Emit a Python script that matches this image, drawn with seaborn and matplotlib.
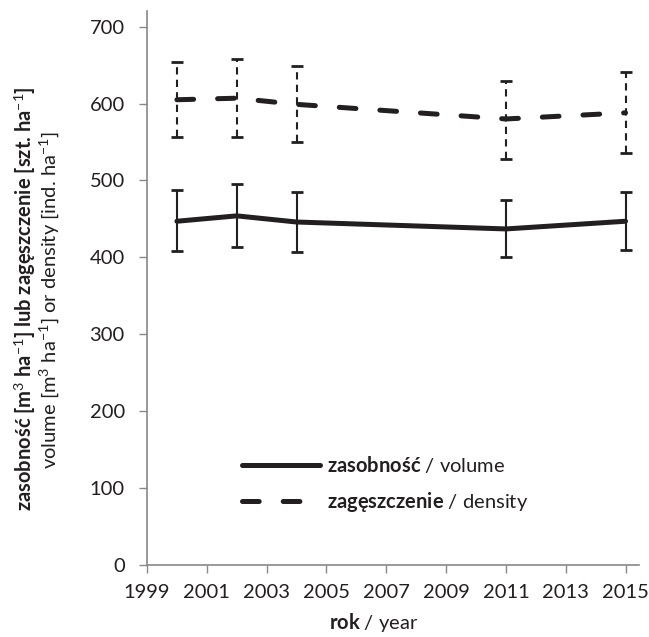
import matplotlib
matplotlib.use("Agg")
import matplotlib.pyplot as plt
import seaborn as sns
import pandas as pd

years = [2000, 2002, 2004, 2011, 2015]
volume = [447, 454, 446, 437, 447]
volume_err_hi = [487, 495, 485, 475, 485]
volume_err_lo = [408, 414, 407, 400, 410]
density = [605, 607, 599, 580, 588]
density_err_hi = [654, 658, 649, 630, 641]
density_err_lo = [556, 557, 550, 528, 536]
xticks = list(range(1999, 2016, 2))
yticks = [0, 100, 200, 300, 400, 500, 600, 700]

sns.set_style("white")
FONT = ["Lato", "DejaVu Sans"]
plt.rcParams["font.family"] = FONT
plt.rcParams["mathtext.fontset"] = "custom"
plt.rcParams["mathtext.rm"] = "Lato"
plt.rcParams["mathtext.bf"] = "Lato:bold"
plt.rcParams["mathtext.it"] = "Lato:italic"
plt.rcParams["mathtext.fallback"] = "stixsans"

col = "#231f20"
FS = 14.5
W, H = 649, 637
x0, x1 = 147, 639
y0, ytop = 565, 11.3
fig = plt.figure(figsize=(W/100, H/100), dpi=100)
ax = fig.add_axes([x0/W, 1-y0/H, (x1-x0)/W, (y0-ytop)/H])

df = pd.DataFrame({"year": years, "volume": volume, "density": density})

ax.errorbar(years, volume,
            yerr=[[v - l for v, l in zip(volume, volume_err_lo)],
                  [h - v for v, h in zip(volume, volume_err_hi)]],
            fmt="none", ecolor=col, elinewidth=1.5, capsize=4, capthick=2, zorder=2)
eb = ax.errorbar(years, density,
                 yerr=[[v - l for v, l in zip(density, density_err_lo)],
                       [h - v for v, h in zip(density, density_err_hi)]],
                 fmt="none", ecolor=col, elinewidth=1.5, capsize=4, capthick=2, zorder=2)
for lc in eb[2]:
    lc.set_linestyle((0, (3.5, 2.5)))

LW = 3.6
sns.lineplot(data=df, x="year", y="volume", ax=ax, color=col, linewidth=LW,
             label="$\\mathbf{zasobność}$ / volume", zorder=3)
sns.lineplot(data=df, x="year", y="density", ax=ax, color=col, linewidth=LW,
             label="$\\mathbf{zagęszczenie}$ / density", zorder=3)
lines = ax.get_lines()
lines[-1].set_dashes((3.34, 4.8))
lines[-1].set_dash_capstyle("round")
lines[-2].set_solid_capstyle("round")

ax.set_xlim(1999, 2015.45)
ax.set_ylim(0, 720)
ax.set_xticks(xticks)
ax.set_yticks(yticks)
ax.tick_params(axis="both", labelsize=FS, colors=col, length=6, width=1, direction="out",
               color="#888888", bottom=True, left=True)
ax.tick_params(axis="x", pad=8)
ax.tick_params(axis="y", pad=10)
for s in ["top", "right"]:
    ax.spines[s].set_visible(False)
for s in ["left", "bottom"]:
    ax.spines[s].set_color("#888888")
    ax.spines[s].set_linewidth(1.2)

ax.set_xlabel("$\\mathbf{rok}$ / year", fontsize=FS, color=col)
ax.xaxis.set_label_coords((374 - x0)/(x1 - x0), -(622 - y0)/(y0 - ytop), transform=ax.transAxes)
ax.xaxis.label.set_va("center")
ax.set_ylabel("")

leg = ax.legend(loc="center left", bbox_to_anchor=(242/W, 1 - 484/H), bbox_transform=fig.transFigure,
                frameon=False, fontsize=FS, borderpad=0, borderaxespad=0,
                handlelength=78/(FS*100/72), handletextpad=0.35, labelspacing=0.75)
for t in leg.get_texts():
    t.set_color(col)
for h in leg.get_lines():
    h.set_linewidth(LW)

fig.text(25.5/W, 1-299/H, "zasobność [m$^{3}$ ha$^{-1}$] lub zagęszczenie [szt. ha$^{-1}$]",
         rotation=90, ha="center", va="center", fontsize=FS, fontweight="bold", color=col,
         family=FONT)
fig.text(49/W, 1-300/H, "volume [m$^{3}$ ha$^{-1}$] or density [ind. ha$^{-1}$]",
         rotation=90, ha="center", va="center", fontsize=FS, color=col, family=FONT)

fig.savefig("out.png", dpi=100)
